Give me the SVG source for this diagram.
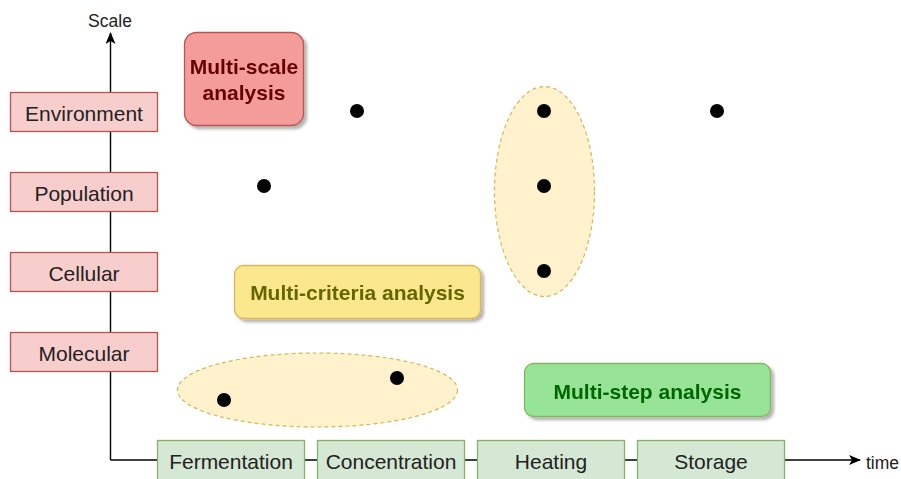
<svg xmlns="http://www.w3.org/2000/svg" width="901" height="479" viewBox="0 0 901 479">
  <defs>
    <marker id="arrow" viewBox="0 0 12 10" refX="11" refY="5" markerWidth="12" markerHeight="10" markerUnits="userSpaceOnUse" orient="auto">
      <path d="M0,0 L12,5 L0,10 L3,5 Z" fill="#000"/>
    </marker>
    <filter id="shadow" x="-10%" y="-20%" width="130%" height="150%">
      <feGaussianBlur in="SourceAlpha" stdDeviation="1.5"/>
      <feOffset dx="3" dy="3" result="b"/>
      <feComponentTransfer><feFuncA type="linear" slope="0.3"/></feComponentTransfer>
      <feMerge><feMergeNode/><feMergeNode in="SourceGraphic"/></feMerge>
    </filter>
  </defs>
  <style>
    text { font-family: "Liberation Sans", Arial, Helvetica, sans-serif; }
    .lbl { font-size: 21px; fill: #222; text-anchor: middle; }
    .scale rect { fill: #f8cecc; stroke: #b85450; stroke-width: 1.3; }
    .step rect { fill: #d5e8d4; stroke: #82b366; stroke-width: 1.3; }
    .axis { stroke: #000; stroke-width: 1.4; fill: none; }
    .group { fill: #fff2cc; stroke: #d6b656; stroke-width: 1.2; stroke-dasharray: 4 3; }
    .dot { fill: #000; }
    .title { font-size: 21px; font-weight: bold; text-anchor: middle; }
  </style>

  <!-- axes and step connectors -->
  <g id="connectors">
    <line class="axis" x1="110.5" y1="460" x2="110.5" y2="33" marker-end="url(#arrow)"/>
    <line class="axis" x1="110.5" y1="460" x2="860" y2="460" marker-end="url(#arrow)"/>
  </g>
  <text x="110" y="27" style="font-size:17.5px;fill:#222;text-anchor:middle">Scale</text>
  <text x="866" y="469" style="font-size:17.5px;fill:#222">time</text>

  <!-- scale levels -->
  <g id="environment" class="scale"><rect x="10.5" y="92.5" width="147" height="39"/><text class="lbl" x="84" y="121">Environment</text></g>
  <g id="population" class="scale"><rect x="10.5" y="172.5" width="147" height="39"/><text class="lbl" x="84" y="201">Population</text></g>
  <g id="cellular" class="scale"><rect x="10.5" y="252.5" width="147" height="39"/><text class="lbl" x="84" y="281">Cellular</text></g>
  <g id="molecular" class="scale"><rect x="10.5" y="332.5" width="147" height="39"/><text class="lbl" x="84" y="361">Molecular</text></g>

  <!-- process steps -->
  <g id="fermentation" class="step"><rect x="157.5" y="440.5" width="147" height="40"/><text class="lbl" x="231" y="469">Fermentation</text></g>
  <g id="concentration" class="step"><rect x="317.5" y="440.5" width="147" height="40"/><text class="lbl" x="391" y="469">Concentration</text></g>
  <g id="heating" class="step"><rect x="477.5" y="440.5" width="147" height="40"/><text class="lbl" x="551" y="469">Heating</text></g>
  <g id="storage" class="step"><rect x="637.5" y="440.5" width="147" height="40"/><text class="lbl" x="711" y="469">Storage</text></g>

  <!-- grouping ellipses -->
  <g id="group-steps"><ellipse class="group" cx="317.5" cy="390" rx="140" ry="37"/></g>
  <g id="group-scales"><ellipse class="group" cx="544.5" cy="191.5" rx="50" ry="105"/></g>

  <!-- data points -->
  <g id="points">
    <circle class="dot" cx="357" cy="111" r="7"/>
    <circle class="dot" cx="544" cy="111" r="7"/>
    <circle class="dot" cx="717" cy="111" r="7"/>
    <circle class="dot" cx="264" cy="186" r="7"/>
    <circle class="dot" cx="544" cy="186" r="7"/>
    <circle class="dot" cx="544" cy="271" r="7"/>
    <circle class="dot" cx="397" cy="378" r="7"/>
    <circle class="dot" cx="224" cy="400" r="7"/>
  </g>

  <!-- analysis labels -->
  <g id="multi-scale" filter="url(#shadow)">
    <rect x="184.5" y="32.5" width="119" height="93" rx="12" fill="#f49c9a" stroke="#b85450" stroke-width="1.3"/>
    <text class="title" x="244" y="74" fill="#660000">Multi-scale</text>
    <text class="title" x="244" y="100" fill="#660000">analysis</text>
  </g>
  <g id="multi-criteria" filter="url(#shadow)">
    <rect x="234.5" y="265.5" width="246" height="53" rx="9" fill="#fbe88e" stroke="#d6b656" stroke-width="1.3"/>
    <text class="title" x="357.5" y="300" fill="#666600">Multi-criteria analysis</text>
  </g>
  <g id="multi-step" filter="url(#shadow)">
    <rect x="524.5" y="363.5" width="246" height="53" rx="9" fill="#97e497" stroke="#82b366" stroke-width="1.3"/>
    <text class="title" x="647.5" y="399" fill="#006600">Multi-step analysis</text>
  </g>
</svg>
